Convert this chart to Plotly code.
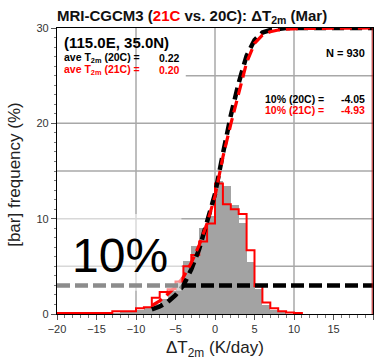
import plotly.graph_objects as go

# ---------------- data ----------------
# 20C histogram (gray bars): left bin edges (1 K/day bins) and frequency (%)
bins_20c = [-13, -12, -11, -10, -9, -8, -7, -6, -5, -4, -3, -2, -1, 0, 1, 2, 3, 4, 5, 6, 7, 8]
freq_20c = [0.1, 0.2, 0.3, 0.4, 0.6, 1.0, 1.6, 2.4, 3.4, 5.6, 7.1, 9.0, 10.3, 14.0, 13.4, 11.4, 9.5, 5.5, 2.6, 0.9, 0.4, 0.3]

# 21C histogram (red step outline): bin edges and frequency (%)
edges_21c = [-20, -19, -18, -17, -16, -15, -14, -13, -12, -11, -10, -9, -8, -7, -6, -5, -4, -3, -2, -1,
             0, 1, 2, 3, 4, 5, 6, 7, 8, 9, 10, 11]
freq_21c = [0.1, 0.1, 0.1, 0.1, 0.1, 0.1, 0.1, 0.3, 0.3, 0.3, 0.6, 0.7, 1.7, 2.3, 2.6, 3.4, 5.0, 6.2, 7.6, 9.5,
            13.7, 11.5, 11.0, 10.5, 6.7, 2.9, 1.2, 0.6, 0.3, 0.15, 0.1, 0.0]

# cumulative distributions (%)
cdf_x = [-8, -7, -6, -5, -4, -3, -2, -1, 0, 1, 2, 3, 4, 5, 6, 7, 8, 9, 10, 11, 20]
cdf_20c = [1.6, 2.6, 4.2, 6.6, 10.0, 15.6, 22.7, 31.7, 42.0, 56.0, 69.4, 80.8, 90.3, 95.8, 98.4, 99.3, 99.7, 100.0, 100.0, 100.0, 100.0]
cdf_21c = [2.9, 4.6, 6.9, 9.5, 12.9, 17.9, 24.1, 31.7, 41.2, 54.9, 66.4, 77.4, 87.9, 94.6, 97.5, 98.7, 99.3, 99.6, 99.75, 99.85, 100.0]

threshold_pct = 10
x_range = [-20, 20]

ave_20c, ave_21c = "0.22", "0.20"
p10_20c, p10_21c = "-4.05", "-4.93"
n_samples = 930

FONT = "Liberation Sans, Arial, sans-serif"
RED = "#ff0000"

fig = go.Figure()

fig.add_trace(go.Bar(x=bins_20c, y=freq_20c, width=1, offset=0,
                     marker=dict(color="#a3a3a3", line=dict(width=0)), showlegend=False))

fig.add_trace(go.Scatter(x=edges_21c, y=freq_21c, mode="lines", line=dict(color=RED, width=2, shape="hv"),
                         showlegend=False))

fig.add_trace(go.Scatter(x=cdf_x, y=cdf_20c, yaxis="y2", mode="lines",
                         line=dict(color="black", width=4.5, dash="12px,6px"), showlegend=False))
fig.add_trace(go.Scatter(x=cdf_x, y=cdf_21c, yaxis="y2", mode="lines",
                         line=dict(color=RED, width=3.2, dash="12px,6px"), showlegend=False))

fig.add_trace(go.Scatter(x=x_range, y=[threshold_pct, threshold_pct], yaxis="y2", mode="lines",
                         line=dict(color="black", width=4.5, dash="13px,5px"), showlegend=False))

grid = dict(color="#a8a8a8", width=1.5)
shapes = []
for gx in [-10, 0, 10]:
    shapes.append(dict(type="line", xref="x", yref="y", x0=gx, x1=gx, y0=0, y1=30, line=grid, layer="below"))
for gy in [5, 10, 15, 20]:
    shapes.append(dict(type="line", xref="x", yref="y", x0=-20, x1=20, y0=gy, y1=gy, line=grid, layer="below"))
shapes.append(dict(type="line", xref="x", yref="y", x0=-3.7, x1=20, y0=25, y1=25, line=grid, layer="below"))
# translucent panel behind the "10%" label
shapes.append(dict(type="rect", xref="x", yref="y", x0=-20, x1=-4.25, y0=2.45, y1=10.5,
                   fillcolor="rgba(255,255,255,0.55)", line=dict(width=0), layer="above"))
shapes.append(dict(type="line", xref="x", yref="y", x0=19.9, x1=19.9, y0=0, y1=30,
                   line=dict(color="#b01010", width=1), layer="above"))

ann = []
def A(x, y, text, size, color="black", xanchor="left", bold=True, **kw):
    t = f"<b>{text}</b>" if bold else text
    ann.append(dict(x=x, y=y, xref="x", yref="y", text=t, showarrow=False, xanchor=xanchor, yanchor="middle",
                    font=dict(family=FONT, size=size, color=color), **kw))

A(-19.4, 28.5, "(115.0E, 35.0N)", 15)
A(-19.4, 26.9, "ave T<sub>2m</sub> (20C) =", 10.5)
A(-7.3, 26.9, ave_20c, 10.5)
A(-19.4, 25.55, "ave T<sub>2m</sub> (21C) =", 10.5, RED)
A(-7.3, 25.55, ave_21c, 10.5, RED)
A(19.25, 27.4, f"N = {n_samples}", 11, xanchor="right")
A(6.1, 22.55, "10% (20C) =", 10.5)
A(19.25, 22.55, p10_20c, 10.5, xanchor="right")
A(6.1, 21.4, "10% (21C) =", 10.5, RED)
A(19.25, 21.4, p10_21c, 10.5, RED, xanchor="right")
A(-18.3, 6.1, "10%", 48, bold=False)

ann.append(dict(x=-0.133, y=0.49, xref="paper", yref="paper", text="[bar] frequency (%)", textangle=-90,
                showarrow=False, xanchor="center", yanchor="middle", font=dict(family=FONT, size=17, color="#222")))
ann.append(dict(x=0.5, y=-0.122, xref="paper", yref="paper", text="ΔT<sub>2m</sub> (K/day)",
                showarrow=False, xanchor="center", yanchor="middle", font=dict(family=FONT, size=17, color="#222")))

fig.update_layout(
    width=379, height=361,
    margin=dict(l=57, r=6, t=28, b=47),
    paper_bgcolor="white", plot_bgcolor="white",
    bargap=0,
    title=dict(text=f'<b>MRI-CGCM3 (<span style="color:{RED}">21C</span> vs. 20C): ΔT<sub>2m</sub> (Mar)</b>',
               x=57/379, xanchor="left", y=1-16/361, yanchor="middle",
               font=dict(family=FONT, size=15, color="#111")),
    xaxis=dict(range=x_range, tickvals=list(range(-20, 21, 5)), ticks="outside", ticklen=5, tickcolor="#555",
               minor=dict(dtick=1, ticks="outside", ticklen=3, tickcolor="#777"),
               showgrid=False, zeroline=False, showline=True, linecolor="black", linewidth=1.2, mirror=True,
               tickfont=dict(family=FONT, size=11, color="#333")),
    yaxis=dict(range=[0, 30], tickvals=[0, 10, 20, 30], ticks="outside", ticklen=5, tickcolor="#555",
               minor=dict(dtick=1, ticks="outside", ticklen=2, tickcolor="#777"),
               showgrid=False, zeroline=False, showline=True, linecolor="black", linewidth=1.2, mirror=True,
               tickfont=dict(family=FONT, size=11, color="#333")),
    yaxis2=dict(range=[0, 100], overlaying="y", visible=False),
    shapes=shapes, annotations=ann,
)

fig.write_html("out.html", config={"displayModeBar": False},
               post_script="document.body.style.margin='0';document.body.style.overflow='hidden';")
